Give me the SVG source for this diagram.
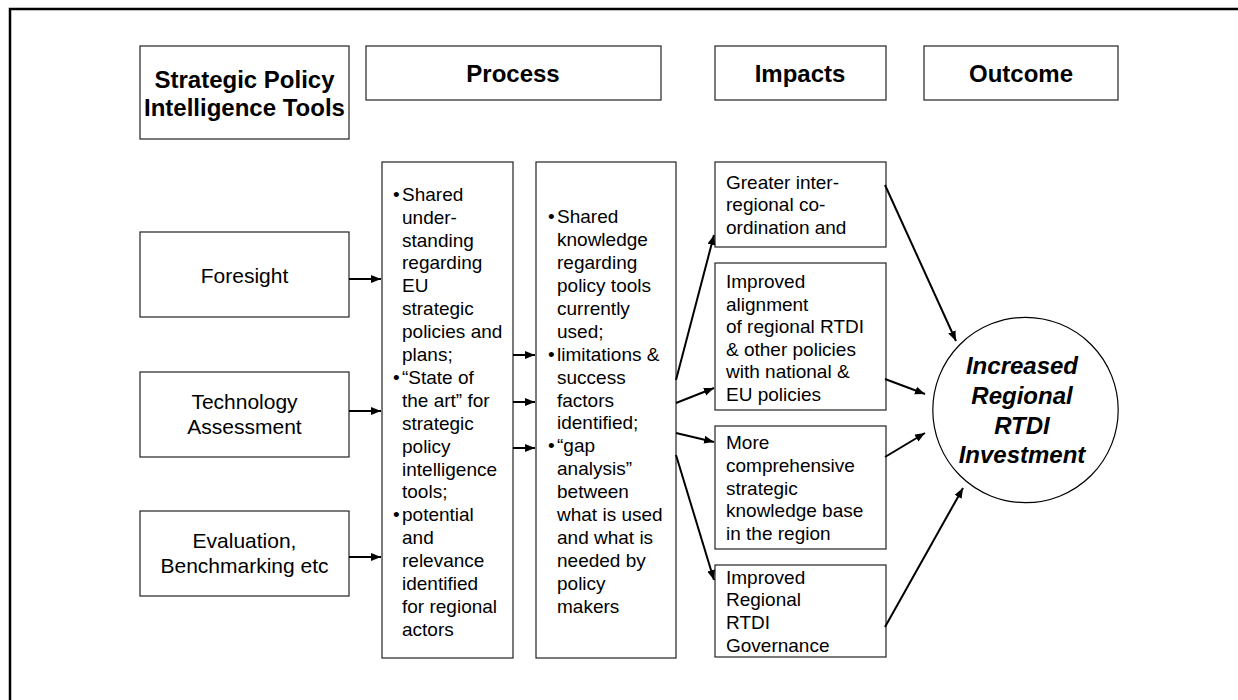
<svg xmlns="http://www.w3.org/2000/svg" width="1238" height="700" viewBox="0 0 1238 700">
<defs>
<style>
.box{fill:#fff;stroke:#222;stroke-width:1.2}
.t{font-family:"Liberation Sans",Arial,sans-serif;font-size:19px;fill:#000}
.tl{font-family:"Liberation Sans",Arial,sans-serif;font-size:21px;fill:#000;text-anchor:middle}
.h{font-family:"Liberation Sans",Arial,sans-serif;font-size:24px;font-weight:bold;fill:#000;text-anchor:middle}
.c{font-family:"Liberation Sans",Arial,sans-serif;font-size:24px;font-weight:bold;font-style:italic;fill:#000;text-anchor:middle}
.ln{stroke:#000;stroke-width:2;fill:none;marker-end:url(#ah)}
</style>
<marker id="ah" markerUnits="userSpaceOnUse" markerWidth="11" markerHeight="9" refX="10" refY="4" orient="auto">
<path d="M0,0 L10,4 L0,8 z" fill="#000"/>
</marker>
</defs>
<rect x="0" y="0" width="1238" height="700" fill="#fff"/>
<path d="M10,700 L10,9 L1238,9" fill="none" stroke="#000" stroke-width="2.5"/>

<g id="hdr-tools"><rect class="box" x="140" y="46" width="209" height="93"/>
<text class="h" x="244.5" y="88">Strategic Policy</text><text class="h" x="244.5" y="116">Intelligence Tools</text></g>
<g id="hdr-process"><rect class="box" x="366" y="46" width="295" height="54"/><text class="h" x="513" y="82">Process</text></g>
<g id="hdr-impacts"><rect class="box" x="715" y="46" width="171" height="54"/><text class="h" x="800" y="82">Impacts</text></g>
<g id="hdr-outcome"><rect class="box" x="924" y="46" width="194" height="54"/><text class="h" x="1021" y="82">Outcome</text></g>

<g id="foresight"><rect class="box" x="140" y="232" width="209" height="85"/><text class="tl" x="244.5" y="283">Foresight</text></g>
<g id="techassess"><rect class="box" x="140" y="372" width="209" height="85"/><text class="tl" x="244.5" y="409">Technology</text><text class="tl" x="244.5" y="434">Assessment</text></g>
<g id="evaluation"><rect class="box" x="140" y="511" width="209" height="85"/><text class="tl" x="244.5" y="548">Evaluation,</text><text class="tl" x="244.5" y="573">Benchmarking etc</text></g>

<g id="process1"><rect class="box" x="382" y="162" width="131" height="496"/>
<text class="t"><tspan x="393" y="200.7">•</tspan><tspan x="402" y="200.7">Shared</tspan><tspan x="402" y="223.6">under-</tspan><tspan x="402" y="246.5">standing</tspan><tspan x="402" y="269.4">regarding</tspan><tspan x="402" y="292.3">EU</tspan><tspan x="402" y="315.2">strategic</tspan><tspan x="402" y="338.1">policies and</tspan><tspan x="402" y="361">plans;</tspan><tspan x="393" y="383.9">•</tspan><tspan x="402" y="383.9">“State of</tspan><tspan x="402" y="406.8">the art” for</tspan><tspan x="402" y="429.7">strategic</tspan><tspan x="402" y="452.6">policy</tspan><tspan x="402" y="475.5">intelligence</tspan><tspan x="402" y="498.4">tools;</tspan><tspan x="393" y="521.3">•</tspan><tspan x="402" y="521.3">potential</tspan><tspan x="402" y="544.2">and</tspan><tspan x="402" y="567.1">relevance</tspan><tspan x="402" y="590">identified</tspan><tspan x="402" y="612.9">for regional</tspan><tspan x="402" y="635.8">actors</tspan></text></g>

<g id="process2"><rect class="box" x="536" y="162" width="140" height="496"/>
<text class="t"><tspan x="548" y="223.3">•</tspan><tspan x="557" y="223.3">Shared</tspan><tspan x="557" y="246.2">knowledge</tspan><tspan x="557" y="269.1">regarding</tspan><tspan x="557" y="292">policy tools</tspan><tspan x="557" y="314.9">currently</tspan><tspan x="557" y="337.8">used;</tspan><tspan x="548" y="360.7">•</tspan><tspan x="557" y="360.7">limitations &amp;</tspan><tspan x="557" y="383.6">success</tspan><tspan x="557" y="406.5">factors</tspan><tspan x="557" y="429.4">identified;</tspan><tspan x="548" y="452.3">•</tspan><tspan x="557" y="452.3">“gap</tspan><tspan x="557" y="475.2">analysis”</tspan><tspan x="557" y="498.1">between</tspan><tspan x="557" y="521">what is used</tspan><tspan x="557" y="543.9">and what is</tspan><tspan x="557" y="566.8">needed by</tspan><tspan x="557" y="589.7">policy</tspan><tspan x="557" y="612.6">makers</tspan></text></g>

<g id="impact1"><rect class="box" x="715" y="162" width="171" height="85"/>
<text class="t"><tspan x="726" y="188.5">Greater inter-</tspan><tspan x="726" y="211.4">regional co-</tspan><tspan x="726" y="234.3">ordination and</tspan></text></g>
<g id="impact2"><rect class="box" x="715" y="263" width="171" height="147"/>
<text class="t"><tspan x="726" y="288.3">Improved</tspan><tspan x="726" y="310.8">alignment</tspan><tspan x="726" y="333.3">of regional RTDI</tspan><tspan x="726" y="355.8">&amp; other policies</tspan><tspan x="726" y="378.3">with national &amp;</tspan><tspan x="726" y="400.8">EU policies</tspan></text></g>
<g id="impact3"><rect class="box" x="715" y="426" width="171" height="123"/>
<text class="t"><tspan x="726" y="449">More</tspan><tspan x="726" y="471.8">comprehensive</tspan><tspan x="726" y="494.6">strategic</tspan><tspan x="726" y="517.4">knowledge base</tspan><tspan x="726" y="540.2">in the region</tspan></text></g>
<g id="impact4"><rect class="box" x="715" y="565" width="171" height="92"/>
<text class="t"><tspan x="726" y="583.5">Improved</tspan><tspan x="726" y="606.3">Regional</tspan><tspan x="726" y="629.1">RTDI</tspan><tspan x="726" y="651.9">Governance</tspan></text></g>

<g id="outcome"><circle cx="1025.5" cy="410" r="92.7" fill="#fff" stroke="#000" stroke-width="1.2"/>
<text class="c" x="1022" y="374">Increased</text><text class="c" x="1022" y="404">Regional</text><text class="c" x="1022" y="434">RTDI</text><text class="c" x="1022" y="463">Investment</text></g>

<g id="connectors">
<line class="ln" x1="349" y1="279" x2="381" y2="279"/>
<line class="ln" x1="349" y1="411" x2="381" y2="411"/>
<line class="ln" x1="349" y1="557" x2="381" y2="557"/>
<line class="ln" x1="513" y1="355" x2="535" y2="355"/>
<line class="ln" x1="513" y1="402" x2="535" y2="402"/>
<line class="ln" x1="513" y1="448" x2="535" y2="448"/>
<line class="ln" x1="676" y1="380" x2="714" y2="235"/>
<line class="ln" x1="676" y1="403" x2="714" y2="388"/>
<line class="ln" x1="676" y1="433" x2="714" y2="442"/>
<line class="ln" x1="676" y1="455" x2="714" y2="580"/>
<line class="ln" x1="885" y1="185" x2="956" y2="341"/>
<line class="ln" x1="885" y1="379" x2="925" y2="394"/>
<line class="ln" x1="885" y1="457" x2="925" y2="433"/>
<line class="ln" x1="885" y1="627" x2="963" y2="488"/>
</g>
</svg>
